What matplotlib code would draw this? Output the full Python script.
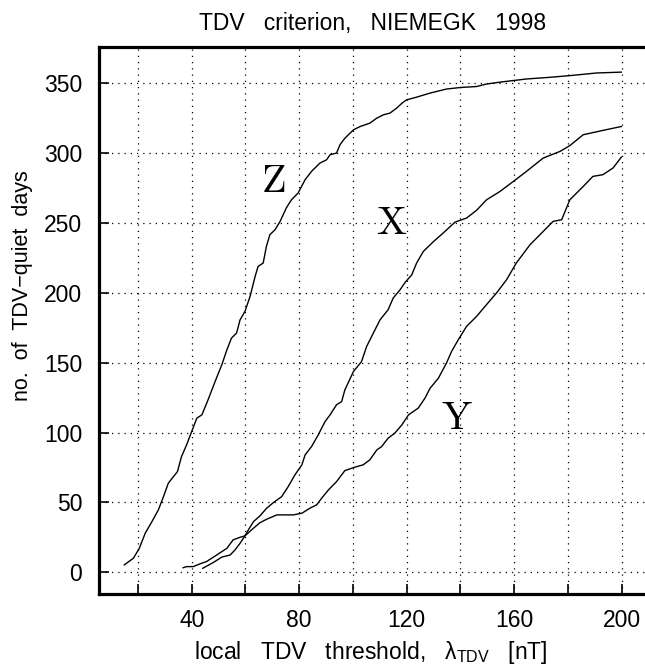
import matplotlib
matplotlib.use('Agg')
import matplotlib.pyplot as plt

# number of quiet days vs local TDV threshold, Niemegk 1998
z_thr = [14.9, 18.3, 20.5, 22.7, 25.2, 27.6, 29.5, 31.3, 34.7, 36.2, 38.1, 40.0,
         41.9, 43.8, 46.1, 48.7, 51.2, 53.1, 54.8, 56.7, 58.0, 59.8, 61.7, 63.6,
         64.7, 66.6, 67.8, 69.1, 71.0, 72.9, 75.2, 77.1, 79.6, 82.2, 84.6, 87.7,
         90.2, 91.5, 93.9, 95.2, 97.0, 100.2, 102.7, 106.3, 108.9, 111.4, 113.8,
         116.3, 118.2, 120.0, 123.7, 128.7, 134.8, 139.9, 146.0, 149.7, 155.8,
         164.6, 173.3, 180.7, 190.7, 199.9]
z_days = [5.3, 10.1, 17.2, 28.0, 36.3, 44.7, 54.2, 63.8, 72.1, 82.8, 91.2, 100.8,
          110.3, 112.7, 123.5, 136.5, 148.5, 159.2, 167.6, 171.2, 180.7, 186.6,
          197.3, 211.7, 218.9, 221.3, 233.2, 241.6, 245.1, 251.1, 260.7, 266.5,
          271.4, 280.9, 286.9, 292.8, 295.2, 298.8, 300.0, 306.0, 310.6, 316.6,
          319.0, 321.4, 325.0, 327.4, 328.6, 332.2, 335.6, 338.1, 340.0, 342.9,
          345.8, 346.9, 347.6, 349.4, 351.0, 353.0, 354.2, 355.4, 357.3, 357.9]

x_thr = [44.1, 48.0, 51.2, 54.3, 56.1, 58.0, 59.8, 61.1, 63.0, 65.4, 67.9, 70.4,
         73.5, 75.9, 78.4, 81.0, 82.2, 84.6, 87.1, 89.6, 91.5, 93.9, 95.8, 97.0,
         100.2, 103.2, 105.1, 107.6, 110.1, 113.1, 115.0, 117.5, 119.4, 121.9,
         123.7, 126.2, 130.0, 133.6, 138.0, 142.3, 146.0, 149.7, 154.7, 159.7,
         164.6, 170.8, 177.1, 180.7, 185.7, 193.0, 199.9]
x_days = [2.9, 7.0, 10.9, 12.4, 16.0, 20.8, 26.1, 30.4, 36.3, 40.4, 45.9, 49.9,
          54.2, 61.3, 69.7, 76.9, 84.0, 90.0, 98.4, 107.8, 112.7, 119.9, 122.2,
          130.5, 143.7, 150.8, 161.6, 171.2, 180.7, 187.9, 196.3, 202.1, 207.4,
          212.9, 221.3, 229.6, 236.7, 242.8, 250.6, 253.5, 259.0, 266.5, 272.5,
          279.7, 286.9, 296.4, 301.2, 305.3, 313.1, 316.2, 319.0]

y_thr = [36.8, 38.1, 40.6, 43.1, 45.5, 49.3, 53.1, 55.4, 58.0, 59.8, 63.0, 65.4,
         67.9, 71.7, 77.8, 81.0, 84.0, 86.5, 88.4, 90.9, 93.9, 97.0, 100.8, 103.8,
         106.3, 108.9, 110.7, 113.1, 115.6, 118.2, 120.7, 124.3, 126.8, 128.7,
         131.8, 134.8, 136.7, 139.2, 142.3, 146.0, 149.7, 153.4, 157.2, 160.8,
         165.9, 170.8, 174.5, 177.7, 180.7, 185.7, 189.3, 193.0, 196.8, 199.9]
y_days = [3.3, 4.1, 4.1, 6.1, 7.7, 12.4, 17.2, 23.2, 25.1, 26.1, 31.6, 35.5,
          38.0, 41.1, 41.1, 42.3, 45.9, 48.3, 53.1, 59.0, 64.9, 72.8, 75.3, 76.9,
          80.5, 87.6, 90.0, 96.0, 99.6, 105.5, 112.7, 117.5, 124.6, 131.7, 138.9,
          149.7, 158.0, 166.4, 176.0, 183.1, 191.5, 199.8, 209.4, 221.3, 234.4,
          243.9, 251.1, 252.3, 266.5, 276.1, 283.3, 284.5, 289.3, 297.1]

xticks = [20, 40, 60, 80, 100, 120, 140, 160, 180, 200]
xtick_labels = ['', '40', '', '80', '', '120', '', '160', '', '200']
yticks = [0, 50, 100, 150, 200, 250, 300, 350]

plt.rcParams['font.family'] = ['Liberation Sans', 'DejaVu Sans']
plt.rcParams['mathtext.default'] = 'regular'

fig = plt.figure(figsize=(6.45, 6.66), dpi=100)
ax = fig.add_axes([99 / 645, 1 - 594 / 666, 1 - 99 / 645, (594 - 46.7) / 666])

ax.plot(z_thr, z_days, color='black', lw=1.0)
ax.plot(x_thr, x_days, color='black', lw=1.0)
ax.plot(y_thr, y_days, color='black', lw=1.0)

# component labels, computer modern letters
for name, lx, ly in [('Z', 70.4, 279.7), ('X', 114.4, 249.9), ('Y', 138.6, 110.3)]:
    ax.text(lx, ly, r'$\mathrm{%s}$' % name, math_fontfamily='cm', fontsize=29,
            ha='center', va='center')

ax.set_xlim(5.5, 208.7)
ax.set_ylim(-15.5, 376.1)
ax.set_xticks(xticks)
ax.set_xticklabels(xtick_labels)
ax.set_yticks(yticks)
ax.tick_params(direction='in', length=7, width=1.2, labelsize=16.5, color='black')
ax.tick_params(axis='x', pad=11)
ax.tick_params(axis='y', pad=12)
ax.grid(True, color='black', lw=0.9, linestyle=(0, (1, 4)))

for side in ['left', 'bottom', 'top']:
    ax.spines[side].set_linewidth(2.3)
ax.spines['right'].set_visible(False)

fig.text(373 / 645, 1 - 30 / 666, 'TDV   criterion,   NIEMEGK   1998',
         ha='center', va='baseline', fontsize=16.5)
fig.text(371 / 645, 1 - 659 / 666, r'local   TDV   threshold,   $\lambda_{TDV}$   [nT]',
         ha='center', va='baseline', fontsize=16.5)
fig.text(22.5 / 645, 1 - 286 / 666, 'no.  of  TDV\u2212quiet  days',
         ha='center', va='center', rotation=90, fontsize=15.5)

fig.savefig('out.png', dpi=100)
